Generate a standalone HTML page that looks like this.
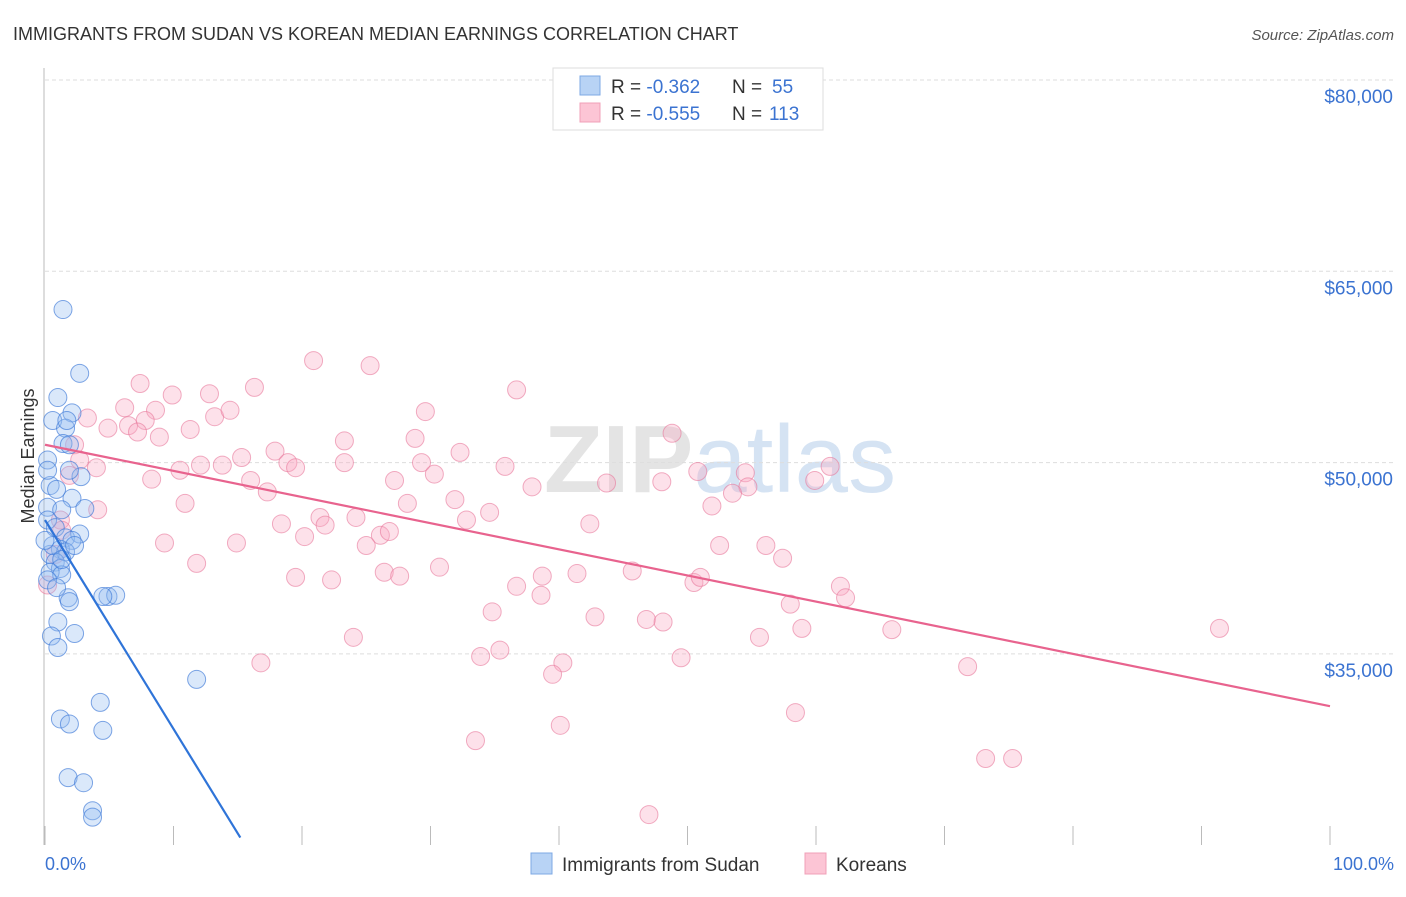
<!DOCTYPE html>
<html><head><meta charset="utf-8"><style>
body{margin:0;background:#fff;font-family:"Liberation Sans",sans-serif;}
svg text{font-family:"Liberation Sans",sans-serif;}
</style></head><body>
<svg id="chart" width="1406" height="892" xmlns="http://www.w3.org/2000/svg">
<text x="13" y="40" font-size="18" fill="#333">IMMIGRANTS FROM SUDAN VS KOREAN MEDIAN EARNINGS CORRELATION CHART</text>
<text x="1394" y="40" font-size="15" fill="#555" text-anchor="end" font-style="italic">Source: ZipAtlas.com</text>
<text x="720" y="492" font-size="96" fill="#e4e4e4" text-anchor="middle" font-family="Liberation Serif" font-weight="bold">ZIP<tspan fill="#d5e3f3" font-family="Liberation Sans" font-weight="normal">atlas</tspan></text>
<g id="grid"></g><g id="axes"></g><g id="pts"></g><g id="lines"></g>
<text transform="translate(34,456) rotate(-90)" font-size="18" fill="#333" text-anchor="middle">Median Earnings</text>
<text x="45" y="870" font-size="18" fill="#3b73d1">0.0%</text>
<text x="1394" y="870" font-size="18" fill="#3b73d1" text-anchor="end">100.0%</text>
<g>
<rect x="553" y="68" width="270" height="62" fill="#fff" stroke="#ddd"/>
<rect x="580" y="76" width="20" height="19" fill="#b8d3f5" stroke="#7ea8e4"/>
<rect x="580" y="103" width="20" height="19" fill="#fcc5d5" stroke="#f0a0b8"/>
<text x="611" y="93" font-size="19" fill="#333">R = <tspan fill="#3b73d1">-0.362</tspan><tspan x="732">N = </tspan><tspan fill="#3b73d1" x="772">55</tspan></text>
<text x="611" y="120" font-size="19" fill="#333">R = <tspan fill="#3b73d1">-0.555</tspan><tspan x="732">N = </tspan><tspan fill="#3b73d1" x="769">113</tspan></text>
</g>
<g>
<rect x="531" y="853" width="21" height="21" fill="#b8d3f5" stroke="#7ea8e4"/>
<text x="562" y="871" font-size="19" fill="#333">Immigrants from Sudan</text>
<rect x="805" y="853" width="21" height="21" fill="#fcc5d5" stroke="#f0a0b8"/>
<text x="836" y="871" font-size="19" fill="#333">Koreans</text>
</g>
</svg>
<script>
const yTicks=[80000,65000,50000,35000];
const yTickLabels=["$80,000","$65,000","$50,000","$35,000"];
const sudan=[[1.4,62.0],[2.7,57.0],[1.0,55.1],[0.6,53.3],[2.1,53.9],[1.6,52.7],[0.2,50.2],[1.4,51.5],[1.9,51.4],[2.8,48.9],[0.4,48.2],[2.1,47.2],[3.1,46.4],[0.2,46.5],[1.3,46.3],[0.2,45.5],[0.8,44.9],[1.6,44.1],[2.7,44.4],[2.1,43.9],[1.2,43.2],[1.6,43.0],[0.4,42.8],[0.8,42.2],[1.2,41.7],[0.4,41.4],[1.3,41.2],[1.8,39.4],[1.9,39.1],[4.9,39.5],[5.5,39.6],[4.5,39.5],[1.0,37.5],[0.5,36.4],[2.3,36.6],[1.0,35.5],[11.8,33.0],[4.3,31.2],[1.2,29.9],[1.9,29.5],[4.5,29.0],[1.8,25.3],[3.0,24.9],[3.7,22.7],[3.7,22.2],[0.2,40.8],[0.6,43.5],[0.0,43.9],[0.2,49.4],[1.7,53.3],[0.9,47.9],[1.3,42.4],[2.3,43.5],[0.9,40.2],[1.9,49.4]];
const koreans=[[7.4,56.2],[9.9,55.3],[12.8,55.4],[16.3,55.9],[20.9,58.0],[25.3,57.6],[36.7,55.7],[6.2,54.3],[3.3,53.5],[8.6,54.1],[6.5,52.9],[7.8,53.3],[7.2,52.4],[8.9,52.0],[4.9,52.7],[11.3,52.6],[13.2,53.6],[14.4,54.1],[23.3,51.7],[29.6,54.0],[28.8,51.9],[32.3,50.8],[35.8,49.7],[23.3,50.0],[17.9,50.9],[18.9,50.0],[19.5,49.6],[15.3,50.4],[13.8,49.8],[12.1,49.8],[10.5,49.4],[8.3,48.7],[2.3,51.4],[1.9,49.0],[4.0,49.6],[2.7,50.2],[1.2,45.5],[4.1,46.3],[10.9,46.8],[16.0,48.6],[17.3,47.7],[27.2,48.6],[28.2,46.8],[29.3,50.0],[30.3,49.1],[31.9,47.1],[32.8,45.5],[34.6,46.1],[37.9,48.1],[43.7,48.4],[48.0,48.5],[48.8,52.3],[50.8,49.3],[54.5,49.2],[54.7,48.1],[53.5,47.6],[51.9,46.6],[59.9,48.6],[61.1,49.7],[42.4,45.2],[18.4,45.2],[20.2,44.2],[21.4,45.7],[21.8,45.1],[24.2,45.7],[26.1,44.3],[26.8,44.6],[25.0,43.5],[14.9,43.7],[9.3,43.7],[11.8,42.1],[19.5,41.0],[22.3,40.8],[26.4,41.4],[27.6,41.1],[30.7,41.8],[36.7,40.3],[38.7,41.1],[38.6,39.6],[41.4,41.3],[45.7,41.5],[50.5,40.6],[51.0,41.0],[52.5,43.5],[56.1,43.5],[57.4,42.5],[58.0,38.9],[58.9,37.0],[61.9,40.3],[62.3,39.4],[65.9,36.9],[71.8,34.0],[91.4,37.0],[34.8,38.3],[42.8,37.9],[46.8,37.7],[48.1,37.5],[24.0,36.3],[55.6,36.3],[16.8,34.3],[33.9,34.8],[35.4,35.3],[40.3,34.3],[39.5,33.4],[49.5,34.7],[58.4,30.4],[40.1,29.4],[33.5,28.2],[73.2,26.8],[75.3,26.8],[47.0,22.4],[0.2,40.4],[0.8,42.8],[1.3,44.7]];
const sudanLine=[0,45.5,15.2,20.6];
const koreanLine=[0,51.4,100,30.9];
const NS="http://www.w3.org/2000/svg";
function X(p){return 45+p*12.85;}
function Y(v){return 80+(80000-v)/15000*191.3;}
function mk(t,a,parent){const e=document.createElementNS(NS,t);for(const k in a)e.setAttribute(k,a[k]);document.getElementById(parent).appendChild(e);return e;}
yTicks.forEach((v,i)=>{
  const l=mk('line',{x1:45,x2:1394,y1:Y(v),y2:Y(v),stroke:'#ddd','stroke-dasharray':'4,3'},'grid');
  
  
  const t=mk('text',{x:1393,y:Y(v)+23,'font-size':19,fill:'#3b73d1','text-anchor':'end'},'grid');
  t.textContent=yTickLabels[i];
  
  
});
const ax=mk('line',{x1:44,x2:44,y1:68,y2:845,stroke:'#bbb'},'axes');


for(let i=0;i<=10;i++){
  const tk=mk('line',{x1:X(i*10),x2:X(i*10),y1:826,y2:845,stroke:'#bbb'},'axes');
  
  
}
koreans.forEach(d=>{
  const c=mk('circle',{cx:X(d[0]),cy:Y(d[1]*1000),r:9,fill:'rgba(248,170,195,0.35)',stroke:'rgba(232,120,155,0.6)','stroke-width':1},'pts');
  
  
});
sudan.forEach(d=>{
  const c=mk('circle',{cx:X(d[0]),cy:Y(d[1]*1000),r:9,fill:'rgba(150,190,240,0.35)',stroke:'rgba(60,120,215,0.65)','stroke-width':1},'pts');
  
  
});
const l1=mk('line',{x1:X(koreanLine[0]),y1:Y(koreanLine[1]*1000),x2:X(koreanLine[2]),y2:Y(koreanLine[3]*1000),stroke:'#e8638e','stroke-width':2.2},'lines');


const l2=mk('line',{x1:X(sudanLine[0]),y1:Y(sudanLine[1]*1000),x2:X(sudanLine[2]),y2:Y(sudanLine[3]*1000),stroke:'#2f74d8','stroke-width':2.2},'lines');


</script>
</body></html>
